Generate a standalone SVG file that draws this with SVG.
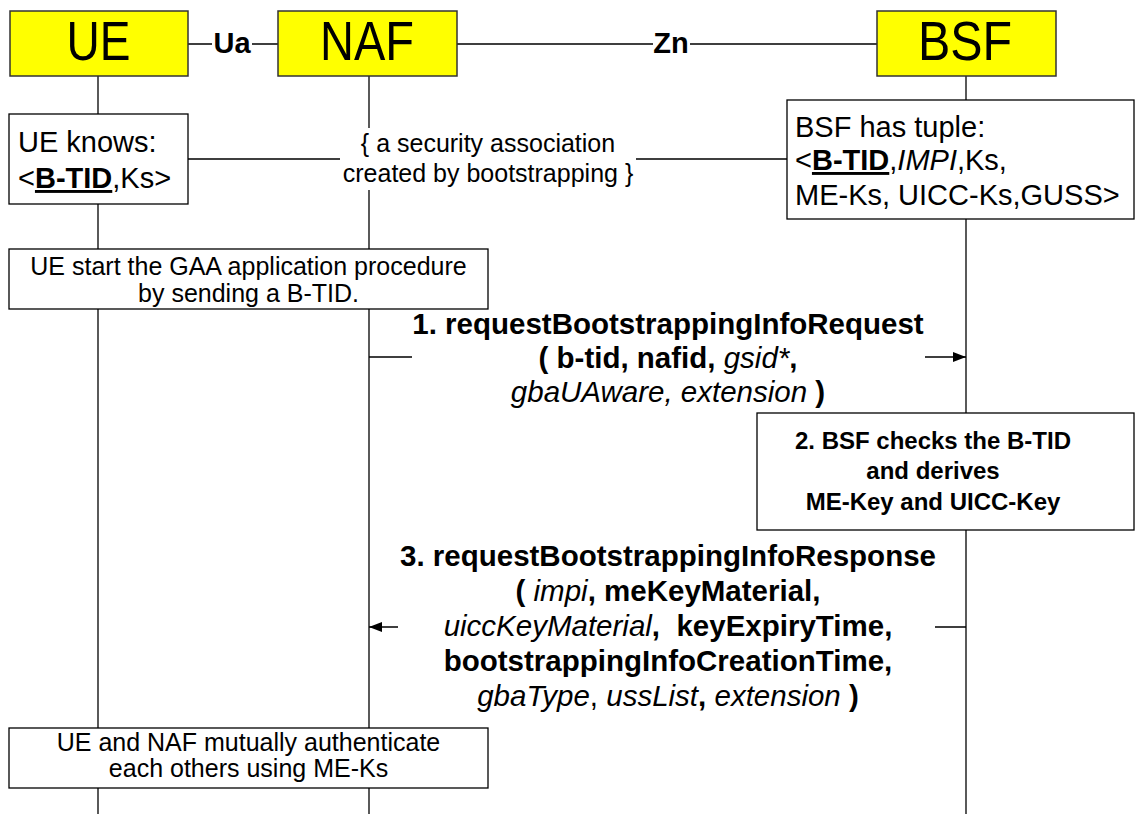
<svg xmlns="http://www.w3.org/2000/svg" width="1136" height="814" viewBox="0 0 1136 814">
<style>
text{font-family:"Liberation Sans",Arial,Helvetica,sans-serif;fill:#000}
.hdr{fill:#ffff00;stroke:#333;stroke-width:1.5}
.hname{font-size:56px;text-anchor:middle}
.box{fill:#fff;stroke:#000;stroke-width:1.3}
.ln{stroke:#000;stroke-width:1.3;fill:none}
.b{font-weight:bold}
.i{font-style:italic;font-weight:normal}
.u{text-decoration:underline}
.n28{font-size:29px}
.n25{font-size:25px}
.m{font-size:29.5px;text-anchor:middle;font-weight:bold}
.chk{font-size:24px;text-anchor:middle;font-weight:bold}
.c{text-anchor:middle}
.lbl{font-size:29px;font-weight:bold;text-anchor:middle}
</style>
<defs>
<marker id="ah" markerUnits="userSpaceOnUse" markerWidth="13" markerHeight="10" refX="13" refY="5" orient="auto">
<path d="M0,0 L13,5 L0,10 z" fill="#000"/>
</marker>
</defs>
<rect width="1136" height="814" fill="#fff"/>
<g id="lifelines">
<line class="ln" x1="98" y1="76" x2="98" y2="814"/>
<line class="ln" x1="369" y1="76" x2="369" y2="814"/>
<line class="ln" x1="966" y1="76" x2="966" y2="814"/>
</g>
<g id="connectors">
<path class="ln" d="M188,44 H212 M252,44 H278"/>
<path class="ln" d="M457,44 H653 M690,44 H877"/>
<path class="ln" d="M188,159 H340 M636,159 H787"/>
<path class="ln" d="M369,357 H412 M925,357 H966" marker-end="url(#ah)"/>
<path class="ln" d="M966,627 H935 M398,627 H369" marker-end="url(#ah)"/>
</g>
<g id="labels">
<text class="lbl" x="232" y="53">Ua</text>
<text class="lbl" x="671" y="53">Zn</text>
<rect x="340" y="128" width="296" height="62" fill="#fff"/>
<text class="n25 c" x="488" y="152">{ a security association</text>
<text class="n25 c" x="488" y="182">created by bootstrapping }</text>
</g>
<g id="UE">
<rect class="hdr" x="10" y="11" width="178" height="65"/>
<text class="hname" x="98.5" y="60" textLength="64" lengthAdjust="spacingAndGlyphs">UE</text>
</g>
<g id="NAF">
<rect class="hdr" x="278" y="11" width="179" height="65"/>
<text class="hname" x="367" y="60" textLength="94" lengthAdjust="spacingAndGlyphs">NAF</text>
</g>
<g id="BSF">
<rect class="hdr" x="877" y="11" width="179" height="65"/>
<text class="hname" x="965" y="60" textLength="94" lengthAdjust="spacingAndGlyphs">BSF</text>
</g>
<g id="ue-knows">
<rect class="box" x="9" y="114" width="179" height="90"/>
<text class="n28" x="18" y="152">UE knows:</text>
<text class="n28" x="18" y="188">&lt;<tspan class="b u">B-TID</tspan>,Ks&gt;</text>
</g>
<g id="bsf-tuple">
<rect class="box" x="787" y="100" width="347" height="119"/>
<text class="n28" x="795" y="137">BSF has tuple:</text>
<text class="n28" x="795" y="170">&lt;<tspan class="b u">B-TID</tspan>,<tspan font-style="italic">IMPI</tspan>,Ks,</text>
<text class="n28" x="795" y="205">ME-Ks, UICC-Ks,GUSS&gt;</text>
</g>
<g id="ue-start">
<rect class="box" x="9" y="249" width="479" height="60"/>
<text class="n25 c" x="248.5" y="275">UE start the GAA application procedure</text>
<text class="n25 c" x="248.5" y="302">by sending a B-TID.</text>
</g>
<g id="msg1">
<text class="m" x="668" y="334">1. requestBootstrappingInfoRequest</text>
<text class="m" x="668" y="368">( b-tid, nafid, <tspan class="i">gsid*</tspan>,</text>
<text class="m" x="668" y="402"><tspan class="i">gbaUAware, extension</tspan> )</text>
</g>
<g id="bsf-checks">
<rect class="box" x="757" y="413" width="377" height="117"/>
<text class="chk" x="933" y="449">2. BSF checks the B-TID</text>
<text class="chk" x="933" y="479">and derives</text>
<text class="chk" x="933" y="510">ME-Key and UICC-Key</text>
</g>
<g id="msg3">
<text class="m" x="668" y="566">3. requestBootstrappingInfoResponse</text>
<text class="m" x="668" y="601">( <tspan class="i">impi</tspan>, meKeyMaterial,</text>
<text class="m" x="668" y="636"><tspan class="i">uiccKeyMaterial</tspan>,&#160; keyExpiryTime,</text>
<text class="m" x="668" y="671">bootstrappingInfoCreationTime,</text>
<text class="m" x="668" y="706"><tspan class="i">gbaType</tspan><tspan font-weight="normal">,</tspan> <tspan class="i">ussList</tspan>, <tspan class="i">extension</tspan> )</text>
</g>
<g id="mutual-auth">
<rect class="box" x="9" y="728" width="479" height="60"/>
<text class="n25 c" x="248.5" y="751">UE and NAF mutually authenticate</text>
<text class="n25 c" x="248.5" y="777">each others using ME-Ks</text>
</g>
</svg>
